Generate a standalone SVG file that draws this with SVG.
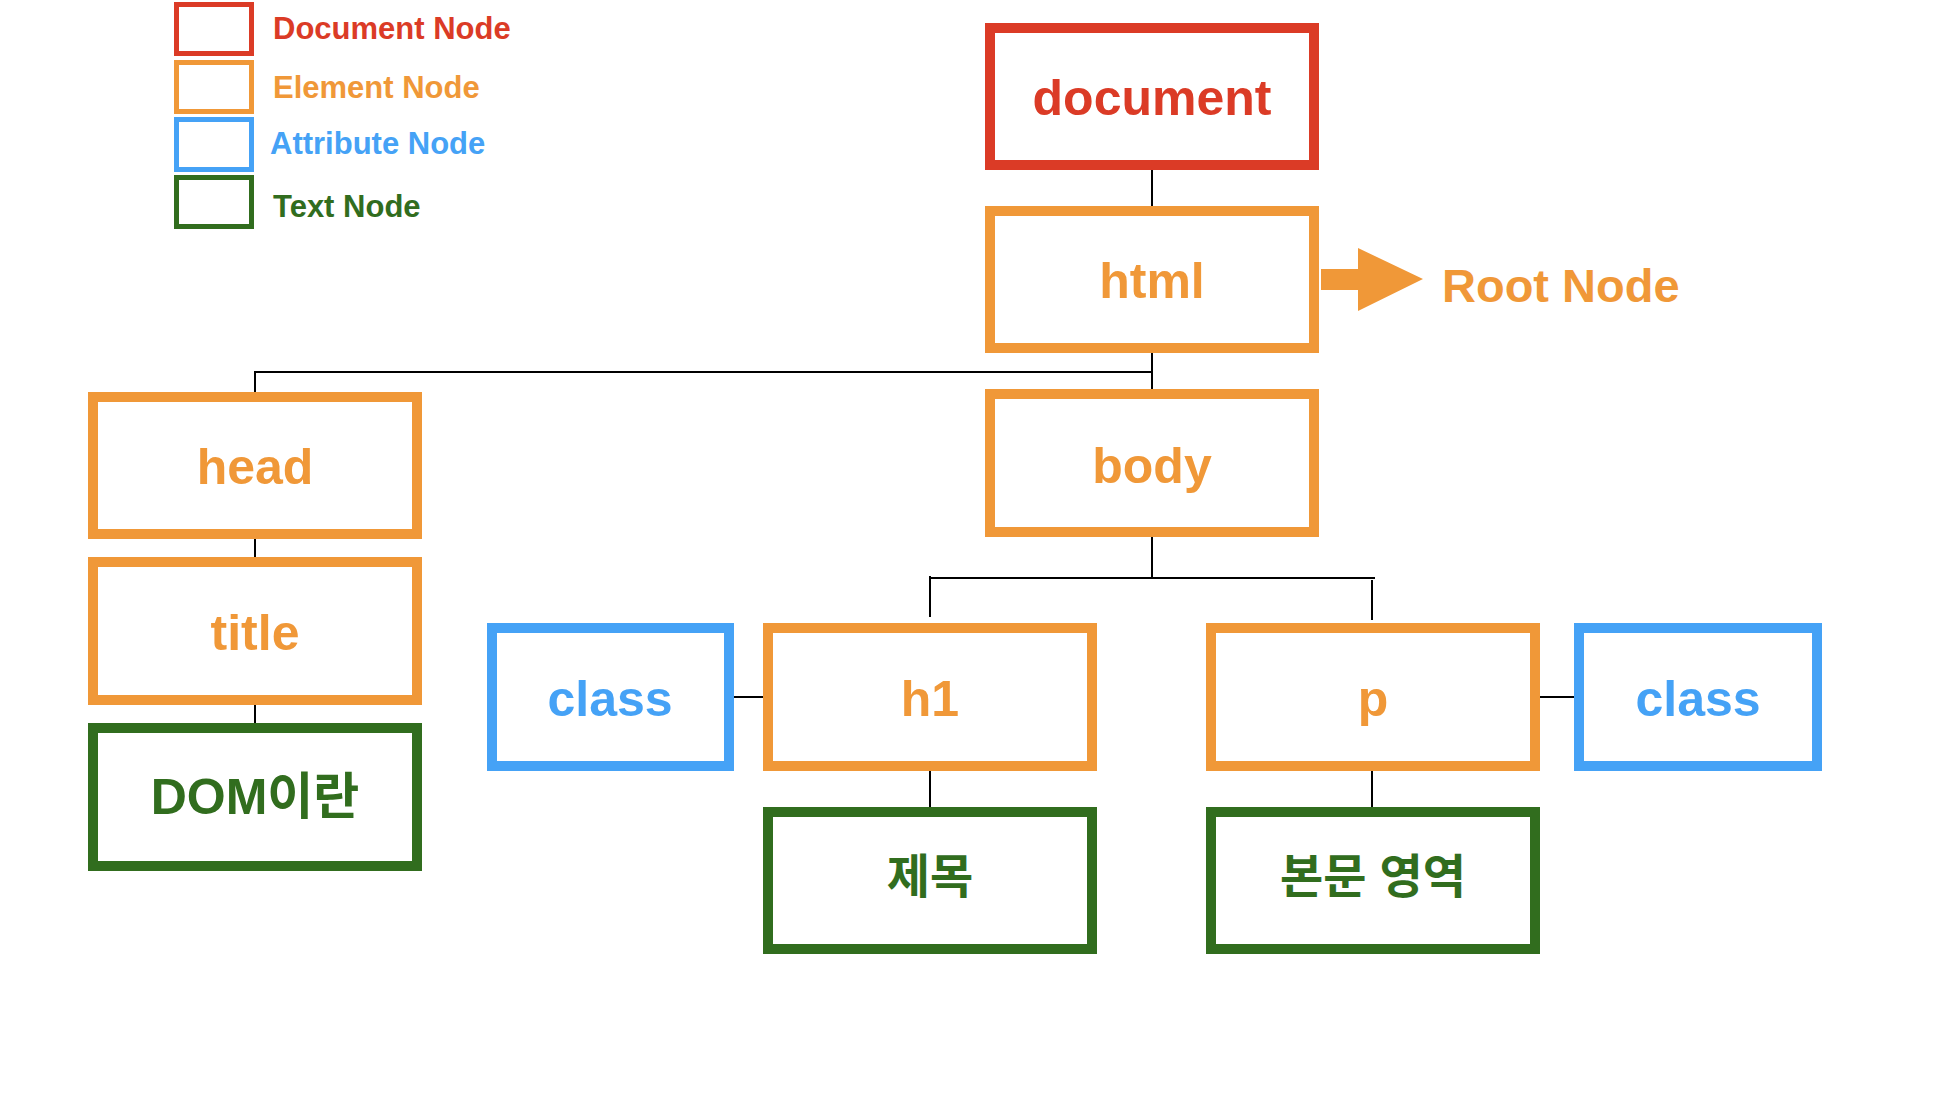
<svg xmlns="http://www.w3.org/2000/svg" width="1954" height="1100" viewBox="0 0 1954 1100">
<style>
  text { font-family: "Liberation Sans", "Noto Sans CJK KR", Arial, sans-serif; font-weight: bold; }
  .box { fill: #ffffff; stroke-width: 10; }
  .lg { fill: #ffffff; stroke-width: 5; }
  .doc { stroke: #DB3B26; }
  .el { stroke: #F09838; }
  .attr { stroke: #45A2F6; }
  .txt { stroke: #316D1E; }
  .t-doc { fill: #DB3B26; }
  .t-el { fill: #F09838; }
  .t-attr { fill: #45A2F6; }
  .t-txt { fill: #316D1E; }
  .label { font-size: 50px; text-anchor: middle; }
  .ko { font-size: 47px; text-anchor: middle; dominant-baseline: central; }
  .legend { font-size: 31px; }
  .conn line { stroke: #000000; stroke-width: 2; }
</style>

<g id="legend">
  <rect class="lg doc" x="176.5" y="4.5" width="75" height="49"/>
  <text class="legend t-doc" x="273" y="39">Document Node</text>
  <rect class="lg el" x="176.5" y="62.5" width="75" height="49"/>
  <text class="legend t-el" x="273" y="98">Element Node</text>
  <rect class="lg attr" x="176.5" y="119.5" width="75" height="50"/>
  <text class="legend t-attr" x="270" y="154">Attribute Node</text>
  <rect class="lg txt" x="176.5" y="177.5" width="75" height="49"/>
  <text class="legend t-txt" x="273" y="217">Text Node</text>
</g>

<g class="conn" id="connectors">
  <line x1="1152" y1="168" x2="1152" y2="206"/>
  <line x1="1152" y1="349" x2="1152" y2="389"/>
  <line x1="254" y1="372" x2="1153" y2="372"/>
  <line x1="255" y1="371" x2="255" y2="413"/>
  <line x1="255" y1="529" x2="255" y2="570"/>
  <line x1="255" y1="692" x2="255" y2="733"/>
  <line x1="1152" y1="537" x2="1152" y2="578"/>
  <line x1="930" y1="578" x2="1375" y2="578"/>
  <line x1="930" y1="576" x2="930" y2="617"/>
  <line x1="1372" y1="580" x2="1372" y2="620"/>
  <line x1="930" y1="767" x2="930" y2="807"/>
  <line x1="1372" y1="767" x2="1372" y2="807"/>
  <line x1="734" y1="697" x2="774" y2="697"/>
  <line x1="1535" y1="697" x2="1574" y2="697"/>
</g>

<g id="node-document">
  <rect class="box doc" x="990" y="28" width="324" height="137"/>
  <text class="label t-doc" x="1152" y="115">document</text>
</g>

<g id="node-html">
  <rect class="box el" x="990" y="211" width="324" height="137"/>
  <text class="label t-el" x="1152" y="298">html</text>
</g>

<g id="root-note">
  <polygon fill="#F09838" points="1321,269 1358,269 1358,248 1423,279 1358,311 1358,290 1321,290"/>
  <text class="t-el" x="1442" y="302" font-size="47">Root Node</text>
</g>

<g id="node-head">
  <rect class="box el" x="93" y="397" width="324" height="137"/>
  <text class="label t-el" x="255" y="484">head</text>
</g>

<g id="node-title">
  <rect class="box el" x="93" y="562" width="324" height="138"/>
  <text class="label t-el" x="255" y="650">title</text>
</g>

<g id="node-dom">
  <rect class="box txt" x="93" y="728" width="324" height="138"/>
  <text class="label t-txt" x="255" y="814">DOM이란</text>
</g>

<g id="node-body">
  <rect class="box el" x="990" y="394" width="324" height="138"/>
  <text class="label t-el" x="1152" y="483">body</text>
</g>

<g id="node-class-left">
  <rect class="box attr" x="492" y="628" width="237" height="138"/>
  <text class="label t-attr" x="610" y="716">class</text>
</g>

<g id="node-h1">
  <rect class="box el" x="768" y="628" width="324" height="138"/>
  <text class="label t-el" x="930" y="716">h1</text>
</g>

<g id="node-p">
  <rect class="box el" x="1211" y="628" width="324" height="138"/>
  <text class="label t-el" x="1373" y="716">p</text>
</g>

<g id="node-class-right">
  <rect class="box attr" x="1579" y="628" width="238" height="138"/>
  <text class="label t-attr" x="1698" y="716">class</text>
</g>

<g id="node-heading-text">
  <rect class="box txt" x="768" y="812" width="324" height="137"/>
  <text class="ko t-txt" x="930" y="876">제목</text>
</g>

<g id="node-body-text">
  <rect class="box txt" x="1211" y="812" width="324" height="137"/>
  <text class="ko t-txt" x="1373" y="876">본문 영역</text>
</g>
</svg>
